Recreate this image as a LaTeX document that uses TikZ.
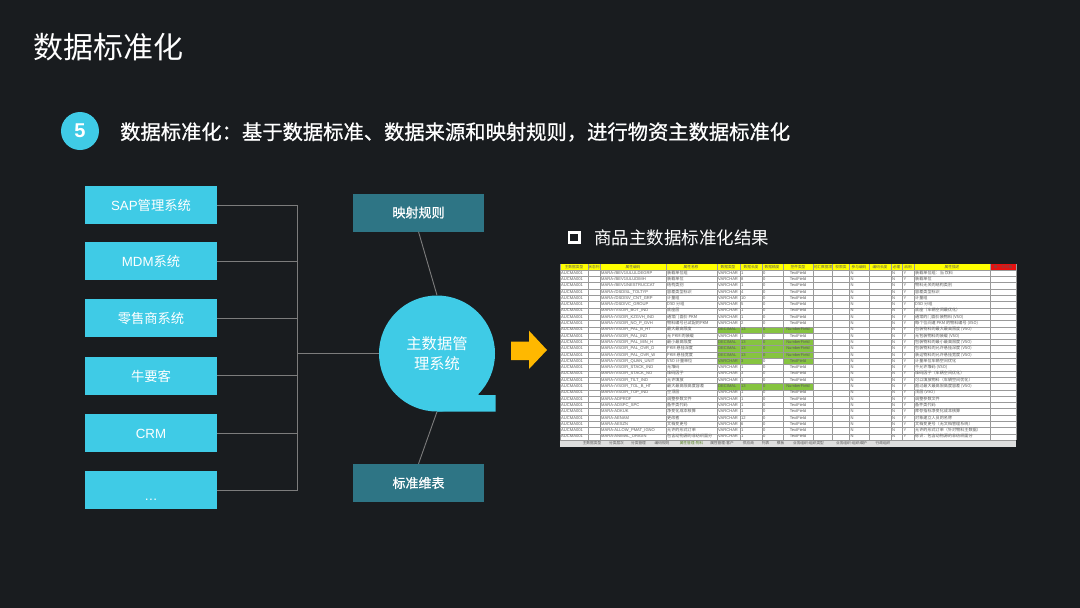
\documentclass[tikz,border=0pt]{standalone}
\usepackage{fontspec}
\setmainfont{Liberation Sans}
\newfontfamily\cjk{Noto Sans CJK SC}
\newfontfamily\cjkmed[FakeBold=0.8]{Noto Sans CJK SC}
\usetikzlibrary{arrows.meta,positioning,calc}
\definecolor{MDMBack}{HTML}{191C1F}
\definecolor{MDMCyan}{HTML}{3FCBE6}
\definecolor{MDMTeal}{HTML}{2E7585}
\definecolor{MDMGold}{HTML}{FFB800}
\definecolor{MDMLine}{HTML}{7C7C7C}
\definecolor{SheetInk}{HTML}{5A5A5A}
\definecolor{SheetGrid}{HTML}{9A9A9A}
\definecolor{SheetYellow}{HTML}{FFFF00}
\definecolor{SheetRed}{HTML}{E8100F}
\definecolor{SheetGreen}{HTML}{86C440}
\definecolor{SheetTab}{HTML}{DEDEDE}

% one row of the sheet: index, code, name, type, length, control, description
\newcommand{\tblrow}[7]{
  \pgfmathsetmacro{\rowy}{273.15+6.3*(#1-1)}
  \node[cell] (scope#1) at (561,\rowy) {AUCMA001};
  \node[cell] (code#1) at (601,\rowy) {MARA-#2};
  \node[cell] (name#1) at (667,\rowy) {\cjk #3};
  \node[cell] (type#1) at (718,\rowy) {#4};
  \node[cell] (len#1) at (741,\rowy) {#5};
  \node[cell] (dec#1) at (763,\rowy) {0};
  \node[cell, anchor=center] (ctl#1) at (798,\rowy) {#6};
  \node[cell] (rel#1) at (850.5,\rowy) {N};
  \node[cell] (req#1) at (892,\rowy) {N};
  \node[cell] (use#1) at (903.5,\rowy) {Y};
  \node[cell] (desc#1) at (915,\rowy) {\cjk #7};
}

\begin{document}
\begin{tikzpicture}[
    x=1pt, y=-1pt,
    srcbox/.style={
      fill=MDMCyan, minimum width=132pt, minimum height=38pt, inner sep=0pt,
      font=\fontsize{13.3}{15}\selectfont, text=white, text height=12pt, text depth=1pt
    },
    rulebox/.style={
      fill=MDMTeal, minimum width=131.5pt, minimum height=38pt, inner sep=0pt,
      font=\fontsize{13}{15}\selectfont\cjkmed, text=white
    },
    link/.style={draw=MDMLine, line width=0.9pt},
    cell/.style={
      anchor=west, inner sep=0pt, text=SheetInk, text height=3pt, text depth=1pt,
      font=\fontsize{4.1}{5}\selectfont
    },
    headcell/.style={
      anchor=center, inner sep=0pt, text=SheetInk,
      font=\fontsize{3.7}{5}\selectfont\cjk
    },
    tabcell/.style={
      anchor=center, inner sep=0pt, text=SheetInk,
      font=\fontsize{3.7}{5}\selectfont\cjk
    }
  ]
  \useasboundingbox (0,0) rectangle (1080,608);
  \fill[MDMBack] (0,0) rectangle (1080,608);

  % Headings
  \node[anchor=west, inner sep=0pt, text=white, font=\fontsize{30}{34}\selectfont\cjk] (title) at (33,47) {数据标准化};
  \node[circle, fill=MDMCyan, minimum size=38pt, inner sep=0pt, text=white, font=\fontsize{20}{24}\selectfont\bfseries] (badge) at (80,131) {5};
  \node[anchor=west, inner sep=0pt, text=white, font=\fontsize{20.3}{24}\selectfont\cjkmed] (lead) at (120,132) {数据标准化：基于数据标准、数据来源和映射规则，进行物资主数据标准化};

  % Source systems
  \node[srcbox] (sap) at (151,205) {SAP{\cjk 管理系统}};
  \node[srcbox] (mdm) at (151,261) {MDM{\cjk 系统}};
  \node[srcbox] (retail) at (151,318) {\cjk 零售商系统};
  \node[srcbox] (niu) at (151,375.5) {\cjk 牛要客};
  \node[srcbox] (crm) at (151,433) {CRM};
  \node[srcbox] (more) at (151,490) {\raisebox{-5pt}{…}};

  % Master data hub
  \fill[MDMCyan] (437,411.5) -- (495.7,411.5) -- (495.7,395) -- (479,395) -- (437,353.5) -- cycle;
  \node[circle, fill=MDMCyan, minimum size=116pt, inner sep=0pt, align=center, text=white,
        font=\fontsize{15.3}{20}\selectfont\cjk] (hub) at (437,353.5) {主数据管\\理系统};
  \node[rulebox] (rules) at (418.5,212.5) {映射规则};
  \node[rulebox] (dims) at (418.5,483) {标准维表};

  % Connectors
  \coordinate (trunk) at (297.3,353.5);
  \foreach \src in {sap,mdm,retail,niu,crm,more}
    \draw[link] (\src.east) -| (trunk);
  \draw[link] (trunk) -- (hub.west);
  \draw[link] (rules.south) -- (hub.north);
  \draw[link] (hub.south) -- (dims.north);

  % Big arrow
  \fill[MDMGold] (511,341.7) -- (529,341.7) -- (529,330.7) -- (547,350) -- (529,369) -- (529,360) -- (511,360) -- cycle;

  % Result heading
  \node[draw=white, line width=2.6pt, minimum size=10.4pt, inner sep=0pt] (mark) at (574.2,237.5) {};
  \node[anchor=west, inner sep=0pt, text=white, font=\fontsize{17.5}{20}\selectfont\cjk] (result) at (594,238) {商品主数据标准化结果};

  % Sheet
  \fill[white] (560,270) rectangle (1015.7,440);
  \fill[SheetYellow] (560,264) rectangle (990,270);
  \fill[SheetRed] (990,264) rectangle (1015.7,270);
  \foreach \i in {10,12,13,14,19} {
    \pgfmathsetmacro{\topy}{270+6.3*(\i-1)}
    \fill[SheetGreen] (716.7,\topy) rectangle (813.3,\topy+6.3);
  }
  \fill[SheetGreen] (716.7,358.2) rectangle (761.7,364.5);
  \fill[SheetGreen] (782.7,358.2) rectangle (813.3,364.5);
  \fill[SheetTab] (560,440) rectangle (1015.7,446.5);
  \foreach \i in {0,...,27} {
    \pgfmathsetmacro{\liney}{270+6.3*\i}
    \draw[SheetGrid, line width=0.4pt] (560,\liney) -- (1015.7,\liney);
  }
  \foreach \x in {560,588.3,600,666,716.7,740,761.7,782.7,813.3,832.3,849.3,869.3,890.7,902.3,914.3,990,1015.7}
    \draw[SheetGrid, line width=0.4pt] (\x,264) -- (\x,440);

  % Sheet header
  \foreach \x/\lbl [count=\n] in {574/主数据类型,594/状态列,633/属性编码,691/属性名称,728/数据类型,751/数据长度,772/数据精度,798/控件类型,823/可汇数据项,841/权限类,859/参与编码,880/编码长度,896.5/必输,908/启用,952/属性描述,1003/第一次归档}
    \node[headcell] (head\n) at (\x,267) {\lbl};

  % Sheet rows
  \tblrow{1}{/BEV1/ULULDEGRP}{装载单位组}{VARCHAR}{1}{TextField}{装载单位组：当 饮料}
  \tblrow{2}{/BEV1/ULUDIMH}{装载单位}{VARCHAR}{8}{TextField}{装载单位}
  \tblrow{3}{/BEV1/NESTRUCCAT}{结构类别}{VARCHAR}{1}{TextField}{物料无关的结构类别}
  \tblrow{4}{/DSD/SL\_TOLTYP}{容差类型标识}{VARCHAR}{4}{TextField}{容差类型标识}
  \tblrow{5}{/DSD/SV\_CNT\_GRP}{计量组}{VARCHAR}{10}{TextField}{计量组}
  \tblrow{6}{/DSD/VC\_GROUP}{DSD 分组}{VARCHAR}{5}{TextField}{DSD 分组}
  \tblrow{7}{/VSO/R\_BOT\_IND}{底座层}{VARCHAR}{1}{TextField}{底座（车辆空间最优化）}
  \tblrow{8}{/VSO/R\_KZGVH\_IND}{通常门面价 PKM}{VARCHAR}{1}{TextField}{通常的门面价装物料 (VSO)}
  \tblrow{9}{/VSO/R\_NO\_P\_GVH}{物料编号已试配的PKM}{VARCHAR}{2}{TextField}{每个位间道 PKM 的物料编号 (VSO)}
  \tblrow{10}{/VSO/R\_PAL\_B\_HT}{最大最高限度}{DECIMAL}{13}{NumberField}{包装物料的最大最高限度 (VSO)}
  \tblrow{11}{/VSO/R\_PAL\_IND}{无 PKM 的装载}{VARCHAR}{1}{TextField}{无包装物料的装载 (VSO)}
  \tblrow{12}{/VSO/R\_PAL\_MIN\_H}{最小最高限度}{DECIMAL}{13}{NumberField}{包装物料的最小最高限度 (VSO)}
  \tblrow{13}{/VSO/R\_PAL\_OVR\_D}{PKM 悬挂深度}{DECIMAL}{13}{NumberField}{包装物料的允许悬挂深度 (VSO)}
  \tblrow{14}{/VSO/R\_PAL\_OVR\_W}{PKM 悬挂宽度}{DECIMAL}{13}{NumberField}{装运物料的允许悬挂宽度 (VSO)}
  \tblrow{15}{/VSO/R\_QUAN\_UNIT}{VSO 计量单位}{VARCHAR}{3}{TextField}{计量单位车辆空间优化}
  \tblrow{16}{/VSO/R\_STACK\_IND}{无堆码}{VARCHAR}{1}{TextField}{不允许堆码 (VSO)}
  \tblrow{17}{/VSO/R\_STACK\_NO}{堆码因子}{VARCHAR}{3}{TextField}{堆码因子（车辆空间优化）}
  \tblrow{18}{/VSO/R\_TILT\_IND}{允许填放}{VARCHAR}{1}{TextField}{可以填放物料（车辆空间优化）}
  \tblrow{19}{/VSO/R\_TOL\_B\_HT}{最大最高限高度容差}{DECIMAL}{13}{NumberField}{超过最大最高限高度容差 (VSO)}
  \tblrow{20}{/VSO/R\_TOP\_IND}{空顶层}{VARCHAR}{1}{TextField}{顶层 (VSO)}
  \tblrow{21}{ADPROF}{调整参数文件}{VARCHAR}{1}{TextField}{调整参数文件}
  \tblrow{22}{ADSPC\_SPC}{备件类代码}{VARCHAR}{1}{TextField}{备件类代码}
  \tblrow{23}{ADKUK}{净变化成本核算}{VARCHAR}{1}{TextField}{库存指标净变化成本核算}
  \tblrow{24}{AENAM}{更改者}{VARCHAR}{12}{TextField}{对象建立人员的名称}
  \tblrow{25}{AESZN}{文档变更号}{VARCHAR}{6}{TextField}{文档变更号（无文档管理系统）}
  \tblrow{26}{ALLOW\_PMAT\_IGNO}{允许的形式订单}{VARCHAR}{1}{TextField}{允许的形式订单（针对物料主数据）}
  \tblrow{27}{ANIMAL\_ORIGIN}{包含动物源的非纺织面分}{VARCHAR}{1}{TextField}{标识：包含动物源的非纺织面分}

  % Sheet tabs
  \foreach \x/\lbl [count=\n] in {592/主数据类型,616.5/分类层次,638.5/分类管理,662/编码规则,722/属性管理-客户,748.5/供应商,765.5/列表,780.5/模板,808.5/业务组织-组织类型,851.5/业务组织-组织维护,883/行政组织}
    \node[tabcell] (tab\n) at (\x,443) {\lbl};
  \node[tabcell, text=SheetGreen!70!black] (tabon) at (691.5,443) {属性管理-物料};

\end{tikzpicture}
\end{document}
